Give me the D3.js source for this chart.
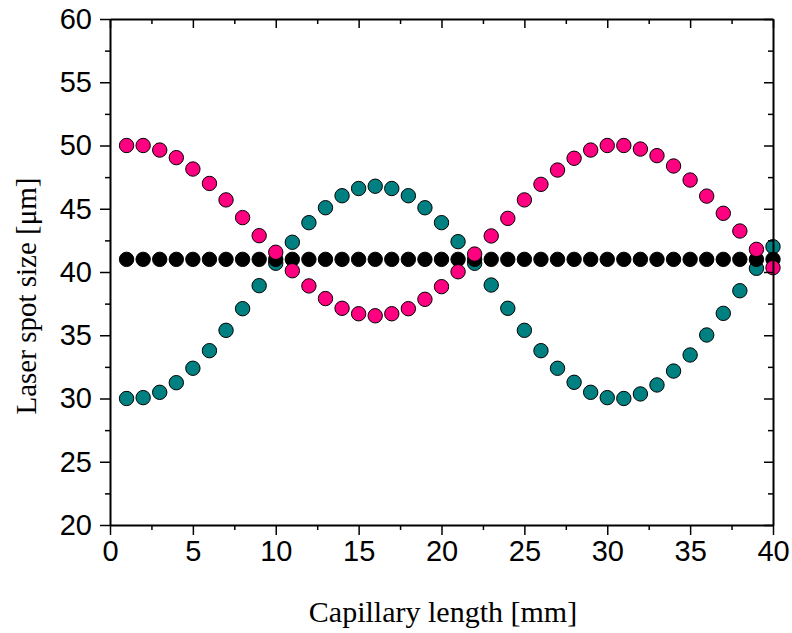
<!DOCTYPE html>
<html>
<head>
<meta charset="utf-8">
<script src="https://cdn.jsdelivr.net/npm/d3@7"></script>
<style>
  body { margin: 0; background: #fff; }
  svg { display: block; }
</style>
</head>
<body>
<svg></svg>
<script>
// capillary positions in mm
var xs = d3.range(1, 41);

// spot size series
var pinkSeries = [50.0, 50.0, 49.64, 49.04, 48.14, 47.0, 45.7, 44.3, 42.87, 41.56,
                  40.1, 38.9, 37.9, 37.13, 36.7, 36.54, 36.7, 37.1, 37.84, 38.84,
                  40.02, 41.42, 42.85, 44.24, 45.7, 46.93, 48.06, 48.99, 49.64, 50.0,
                  50.0, 49.72, 49.2, 48.38, 47.27, 46.0, 44.64, 43.24, 41.79, 40.34];
var tealSeries = [30.0, 30.07, 30.49, 31.25, 32.39, 33.78, 35.39, 37.1, 38.92, 40.69,
                  42.35, 43.9, 45.08, 46.03, 46.6, 46.78, 46.6, 46.03, 45.08, 43.9,
                  42.4, 40.69, 38.97, 37.13, 35.39, 33.78, 32.39, 31.28, 30.49, 30.07,
                  30.0, 30.36, 31.07, 32.17, 33.44, 35.02, 36.73, 38.52, 40.29, 42.0];
var blackSeries = xs.map(function() { return 41; });

var xTicks = [0, 5, 10, 15, 20, 25, 30, 35, 40];
var yTicks = [20, 25, 30, 35, 40, 45, 50, 55, 60];

var svgWidth = 792, svgHeight = 633;
var margin = {left: 110, right: 19, top: 19, bottom: 108};

var svg = d3.select('svg')
    .attr("width", svgWidth)
    .attr("height", svgHeight);

var x = d3.scaleLinear().domain([0, 40]).range([margin.left, svgWidth - margin.right]);
var y = d3.scaleLinear().domain([20, 60]).range([svgHeight - margin.bottom, margin.top]);

var minorX = d3.range(2.5, 40, 5);
var minorY = d3.range(22.5, 60, 5);

//series drawn teal first, then black, pink on top
var series = [
  {vals: tealSeries, fill: "#008080"},
  {vals: blackSeries, fill: "#000000"},
  {vals: pinkSeries, fill: "#ff0080"}
];

series.forEach(function(s) {
  svg.append("g").selectAll("circle")
    .data(s.vals)
    .enter()
    .append("circle")
    .attr("cx", function(d, i) { return x(xs[i]); })
    .attr("cy", function(d) { return y(d); })
    .attr("r", 7.2)
    .attr("fill", s.fill)
    .attr("stroke", "#000")
    .attr("stroke-width", 1);
});

// axes: bottom/left ticks outward, top/right inward
function styleAxis(g) {
  g.select(".domain").attr("stroke-width", 2);
  g.selectAll(".tick line").attr("stroke-width", 1.5);
  g.selectAll("text")
    .attr("font-family", "Liberation Sans, Arial, sans-serif")
    .attr("font-size", 29)
    .attr("fill", "#000");
}
function minorStyle(g) {
  g.select(".domain").remove();
  g.selectAll("line").attr("stroke-width", 1.5);
}

var bottomAxis = svg.append("g")
  .attr("transform", "translate(0," + y(20) + ")")
  .call(d3.axisBottom(x).tickValues(xTicks).tickSize(10).tickSizeOuter(0).tickPadding(5));
styleAxis(bottomAxis);
svg.append("g")
  .attr("transform", "translate(0," + y(20) + ")")
  .call(d3.axisBottom(x).tickValues(minorX).tickSize(5).tickSizeOuter(0).tickFormat(""))
  .call(minorStyle);

var leftAxis = svg.append("g")
  .attr("transform", "translate(" + x(0) + ",0)")
  .call(d3.axisLeft(y).tickValues(yTicks).tickSize(10).tickSizeOuter(0).tickPadding(8));
styleAxis(leftAxis);
svg.append("g")
  .attr("transform", "translate(" + x(0) + ",0)")
  .call(d3.axisLeft(y).tickValues(minorY).tickSize(5).tickSizeOuter(0).tickFormat(""))
  .call(minorStyle);

var topAxis = svg.append("g")
  .attr("transform", "translate(0," + y(60) + ")")
  .call(d3.axisBottom(x).tickValues(xTicks).tickSize(9).tickSizeOuter(0).tickFormat(""));
styleAxis(topAxis);
svg.append("g")
  .attr("transform", "translate(0," + y(60) + ")")
  .call(d3.axisBottom(x).tickValues(minorX).tickSize(5).tickSizeOuter(0).tickFormat(""))
  .call(minorStyle);

var rightAxis = svg.append("g")
  .attr("transform", "translate(" + x(40) + ",0)")
  .call(d3.axisLeft(y).tickValues(yTicks).tickSize(9).tickSizeOuter(0).tickFormat(""));
styleAxis(rightAxis);
svg.append("g")
  .attr("transform", "translate(" + x(40) + ",0)")
  .call(d3.axisLeft(y).tickValues(minorY).tickSize(5).tickSizeOuter(0).tickFormat(""))
  .call(minorStyle);

//axis titles
svg.append("text")
  .attr("x", 443)
  .attr("y", 622)
  .attr("text-anchor", "middle")
  .attr("font-family", "Liberation Serif, serif")
  .attr("font-size", 30)
  .text("Capillary length [mm]");

svg.append("text")
  .attr("transform", "translate(36,296) rotate(-90)")
  .attr("text-anchor", "middle")
  .attr("font-family", "Liberation Serif, serif")
  .attr("font-size", 29)
  .text("Laser spot size [μm]");
</script>
</body>
</html>
